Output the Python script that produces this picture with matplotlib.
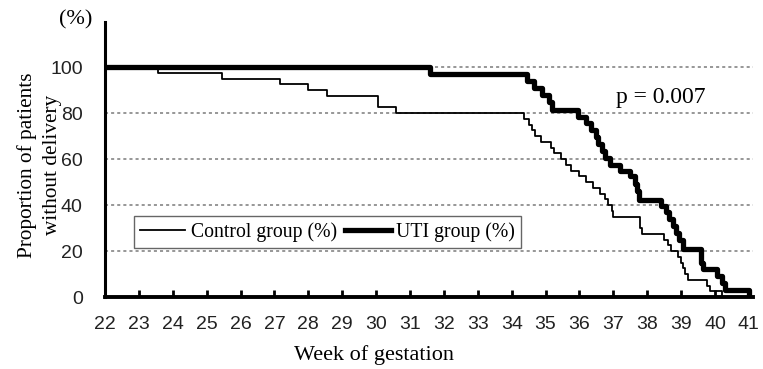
import matplotlib
matplotlib.use("Agg")
import matplotlib.pyplot as plt

# Control group: (week of drop, value after drop)
control_weeks = [22, 23.55, 25.45, 27.15, 28.0, 28.55, 30.05, 30.6,
                 34.35, 34.5, 34.6, 34.7, 34.85, 35.15, 35.25, 35.45, 35.6, 35.75,
                 36.0, 36.2, 36.4, 36.6, 36.75, 36.85, 36.95, 37.0,
                 37.8, 37.85, 38.5, 38.6, 38.7, 38.9, 39.0, 39.05, 39.1, 39.2,
                 39.75, 39.85, 40.2]
control_vals = [100, 97.5, 95, 92.5, 90, 87.5, 82.5, 80,
                77.5, 75, 72.5, 70, 67.5, 65, 62.5, 60, 57.5, 55,
                52.5, 50, 47.5, 45, 42.5, 40, 37.5, 35,
                30, 27.5, 25, 22.5, 20, 17.5, 15, 12.5, 10, 7.5,
                5, 2.5, 0]

# UTI group
uti_weeks = [22, 31.6, 34.45, 34.65, 34.9, 35.1, 35.2,
             35.95, 36.2, 36.35, 36.5, 36.55, 36.65, 36.75, 36.9, 37.2, 37.5,
             37.65, 37.7, 37.75, 38.4, 38.55, 38.65, 38.75, 38.85, 38.95, 39.05,
             39.6, 39.65, 40.05, 40.2, 40.3, 41.0]
uti_vals = [100, 97, 94, 91, 88, 85, 81.5,
            78.5, 75.5, 72.5, 69.5, 66.5, 63.5, 60.5, 57.5, 55, 52.5,
            49, 46, 42, 39.5, 37, 34, 31, 28, 25, 21,
            15, 12, 9, 6, 3, 0]

x_ticks = list(range(22, 42))
y_ticks = [0, 20, 40, 60, 80, 100]
ylabel_lines = ["Proportion of patients", "without delivery"]

sans = "Liberation Sans"
serif = "Liberation Serif"

W, H = 763, 369
fig = plt.figure(figsize=(W/100, H/100), dpi=100)
ax = fig.add_axes([105/W, 1-297/H, 648/W, 275/H])

for v in y_ticks[1:]:
    ax.axhline(v, color="#7a7a7a", lw=1.1, ls=(0, (2, 2)), zorder=1)

ax.step(control_weeks, control_vals, where="post", color="black", lw=1.3,
        label="Control group (%)", zorder=3)
ax.step(uti_weeks, uti_vals, where="post", color="black", lw=3.8,
        label="UTI group (%)", zorder=4)

ax.set_xlim(22, 41.12)
ax.set_ylim(0, 119.6)
ax.set_xticks(x_ticks)
ax.set_yticks(y_ticks)
ax.tick_params(axis="x", direction="in", length=5, width=2, pad=14,
               labelsize=14, labelcolor="#222222")
ax.tick_params(axis="y", length=0, pad=16, labelsize=14, labelcolor="#222222")
for lab in ax.get_xticklabels() + ax.get_yticklabels():
    lab.set_family(sans)

for s in ["top", "right"]:
    ax.spines[s].set_visible(False)
ax.spines["left"].set_linewidth(2.2)
ax.spines["bottom"].set_linewidth(2.8)

fig.text(374/W, 1-355/H, "Week of gestation", family=serif, fontsize=16,
         ha="center", va="center")
fig.text(27/W, 1-165/H, ylabel_lines[0], family=serif,
         fontsize=15.3, rotation=90, ha="center", va="center")
fig.text(52/W, 1-165/H, ylabel_lines[1], family=serif,
         fontsize=15.3, rotation=90, ha="center", va="center")

fig.text(76/W, 1-20/H, "(%)", family=serif, fontsize=16, ha="center", va="center")
fig.text(661/W, 1-97/H, "p = 0.007", family=serif, fontsize=17,
         ha="center", va="center")

leg = ax.legend(loc="lower left", bbox_to_anchor=((134-105)/648, (297-248)/275),
                ncol=2, frameon=True, fancybox=False, framealpha=1,
                edgecolor="#666666", prop={"family": serif, "size": 14.2},
                handlelength=2.3, handletextpad=0.3, columnspacing=0.4,
                borderpad=0.3, borderaxespad=0)
leg.get_frame().set_linewidth(1.0)

fig.savefig("out.png", dpi=100)
